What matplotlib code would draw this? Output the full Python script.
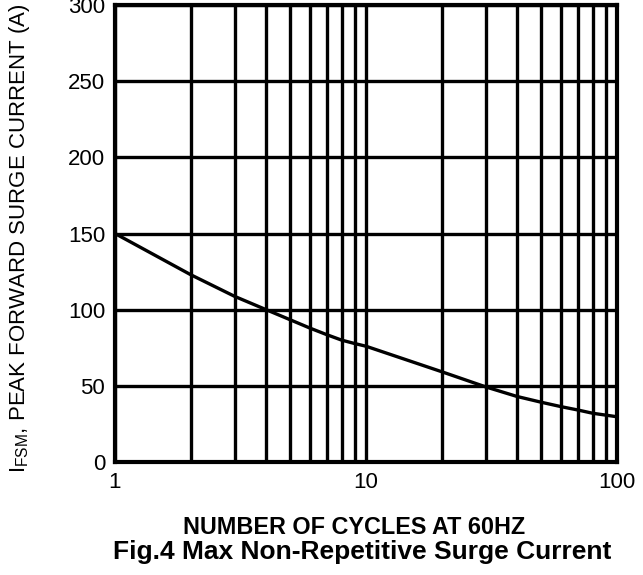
import matplotlib
matplotlib.use("Agg")
import matplotlib.pyplot as plt
from matplotlib.ticker import FixedLocator, NullFormatter, FixedFormatter

plt.rcParams['font.family'] = ['Liberation Sans', 'DejaVu Sans']
plt.rcParams['mathtext.fontset'] = 'custom'
plt.rcParams['mathtext.rm'] = 'Liberation Sans'

cycles = [1, 2, 3, 4, 5, 6, 7, 8, 9, 10, 20, 30, 40, 50, 60, 70, 80, 90, 100]
current = [150, 123, 108.7, 100, 93.3, 87.8, 83.5, 80, 77.8, 76, 59.3, 49.3,
           43, 39.2, 36.3, 34.1, 32, 30.8, 29.7]

x_ticks = [1, 10, 100]
x_tick_labels = ['1', '10', '100']
y_ticks = [0, 50, 100, 150, 200, 250, 300]
minor_x = [2, 3, 4, 5, 6, 7, 8, 9, 20, 30, 40, 50, 60, 70, 80, 90]

fig = plt.figure(figsize=(6.43, 5.75), dpi=100)
ax = fig.add_axes([115/643, 1-462/575, (617-115)/643, (462-5)/575])

ax.set_xscale('log')
ax.set_xlim(1, 100)
ax.set_ylim(0, 300)

ax.xaxis.set_major_locator(FixedLocator(x_ticks))
ax.xaxis.set_major_formatter(FixedFormatter(x_tick_labels))
ax.xaxis.set_minor_locator(FixedLocator(minor_x))
ax.xaxis.set_minor_formatter(NullFormatter())
ax.yaxis.set_major_locator(FixedLocator(y_ticks))

ax.grid(True, which='both', axis='x', color='black', linewidth=2.4)
ax.grid(True, which='major', axis='y', color='black', linewidth=2.4)
ax.set_axisbelow(True)
for s in ax.spines.values():
    s.set_linewidth(3.0)
    s.set_color('black')

ax.tick_params(which='both', length=0, labelsize=16, pad=7)

ax.plot(cycles, current, color='black', linewidth=2.4, solid_joinstyle='round', zorder=3)

fig.text(20/643, 1-238/575, r'$\mathregular{I_{FSM}}$, PEAK FORWARD SURGE CURRENT (A)',
         rotation=90, ha='center', va='center', fontsize=16)
fig.text(354/643, 1-527/575, 'NUMBER OF CYCLES AT 60HZ', ha='center', va='center',
         fontsize=16.8, fontweight='bold')
fig.text(362/643, 1-552/575, 'Fig.4 Max Non-Repetitive Surge Current', ha='center', va='center',
         fontsize=19, fontweight='bold')

fig.savefig('out.png', dpi=100)
